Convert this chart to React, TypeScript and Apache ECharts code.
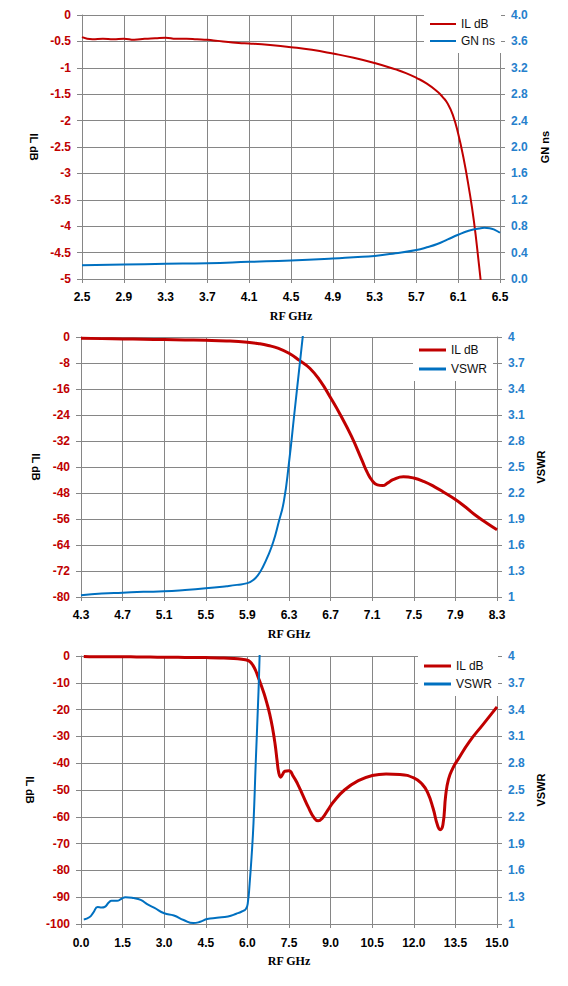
import React, { useEffect, useRef } from 'react';
import * as echarts from 'echarts';

// ---------- tick labels ----------
const X1_TICKS = [2.5, 2.9, 3.3, 3.7, 4.1, 4.5, 4.9, 5.3, 5.7, 6.1, 6.5];
const X2_TICKS = [4.3, 4.7, 5.1, 5.5, 5.9, 6.3, 6.7, 7.1, 7.5, 7.9, 8.3];
const VSWR_TICKS = [1, 1.3, 1.6, 1.9, 2.2, 2.5, 2.8, 3.1, 3.4, 3.7, 4];

// ---------- chart 1: IL dB / GN ns ----------
const IL1: [number, number][] = [
  [2.5, -0.42], [2.6, -0.46], [2.7, -0.45], [2.8, -0.46], [2.9, -0.45], [3.0, -0.47],
  [3.1, -0.45], [3.2, -0.44], [3.3, -0.43], [3.4, -0.45], [3.5, -0.45], [3.6, -0.46],
  [3.7, -0.47], [3.8, -0.49], [3.9, -0.51], [4.0, -0.53], [4.1, -0.54], [4.3, -0.57],
  [4.5, -0.61], [4.7, -0.66], [4.9, -0.73], [5.1, -0.81], [5.3, -0.91], [5.5, -1.03],
  [5.6, -1.1], [5.7, -1.19], [5.8, -1.3], [5.9, -1.45], [5.95, -1.55], [6.0, -1.68],
  [6.05, -1.9], [6.1, -2.25], [6.15, -2.7], [6.2, -3.25], [6.25, -3.9], [6.3, -4.75],
  [6.33, -5.3],
];
const GN1: [number, number][] = [
  [2.5, 0.21], [2.9, 0.22], [3.3, 0.23], [3.7, 0.24], [4.1, 0.26], [4.5, 0.28],
  [4.9, 0.31], [5.1, 0.33], [5.3, 0.35], [5.5, 0.39], [5.7, 0.44], [5.8, 0.48],
  [5.9, 0.53], [6.0, 0.6], [6.1, 0.67], [6.2, 0.73], [6.3, 0.765], [6.35, 0.775],
  [6.4, 0.77], [6.45, 0.745], [6.5, 0.7],
];

// ---------- chart 2: IL dB / VSWR ----------
const IL2: [number, number][] = [
  [4.3, -0.4], [4.5, -0.5], [4.7, -0.6], [4.9, -0.7], [5.1, -0.8], [5.3, -0.9],
  [5.5, -1.0], [5.7, -1.2], [5.9, -1.6], [6.0, -2.0], [6.1, -2.6], [6.2, -3.5],
  [6.3, -5.0], [6.4, -7.2], [6.5, -9.6], [6.6, -13.5], [6.7, -18.7], [6.8, -24.3],
  [6.9, -30.5], [7.0, -37.8], [7.05, -41.5], [7.1, -44.2], [7.15, -45.5], [7.2, -45.7],
  [7.25, -44.9], [7.3, -43.9], [7.4, -43.0], [7.5, -43.4], [7.6, -44.5], [7.7, -46.1],
  [7.8, -48.0], [7.9, -50.0], [8.0, -52.4], [8.1, -55.0], [8.2, -57.2], [8.3, -59.3],
];
const VSWR2: [number, number][] = [
  [4.3, 1.02], [4.5, 1.04], [4.7, 1.05], [4.9, 1.06], [5.1, 1.065], [5.3, 1.08],
  [5.5, 1.1], [5.7, 1.125], [5.8, 1.14], [5.9, 1.16], [5.95, 1.19], [6.0, 1.25],
  [6.05, 1.35], [6.1, 1.48], [6.15, 1.64], [6.2, 1.86], [6.25, 2.1], [6.3, 2.55],
  [6.35, 3.1], [6.4, 3.65], [6.45, 4.2],
];

// ---------- chart 3: IL dB / VSWR wideband ----------
const IL3: [number, number][] = [
  [0.1, -0.2], [0.5, -0.3], [1.0, -0.3], [1.5, -0.3], [2.0, -0.35], [2.5, -0.4],
  [3.0, -0.45], [3.5, -0.5], [4.0, -0.55], [4.5, -0.6], [5.0, -0.7], [5.5, -0.9],
  [5.8, -1.2], [6.0, -1.6], [6.1, -2.2], [6.2, -3.5], [6.3, -5.5], [6.4, -8.2],
  [6.5, -11], [6.6, -14], [6.7, -17.5], [6.8, -21.5], [6.9, -26.5], [7.0, -33],
  [7.07, -39], [7.13, -43.5], [7.2, -45.2], [7.27, -44.2], [7.35, -43], [7.5, -42.8],
  [7.65, -44.8], [7.8, -47.5], [8.0, -52], [8.2, -56.5], [8.4, -60.3], [8.55, -61.5],
  [8.7, -60.5], [8.9, -57.5], [9.1, -54.5], [9.5, -50], [10.0, -46.5], [10.5, -44.6],
  [11.0, -44], [11.5, -44.2], [12.0, -45.5], [12.3, -47.8], [12.5, -51], [12.7, -57],
  [12.85, -63], [12.95, -64.8], [13.05, -63], [13.15, -52], [13.25, -46], [13.4, -42],
  [13.6, -38.5], [14.0, -32], [14.5, -25.5], [15.0, -19],
];
const VSWR3: [number, number][] = [
  [0.1, 1.05], [0.3, 1.075], [0.45, 1.13], [0.6, 1.19], [0.75, 1.185], [0.85, 1.19],
  [1.0, 1.24], [1.1, 1.26], [1.3, 1.26], [1.45, 1.28], [1.6, 1.3], [1.9, 1.29],
  [2.15, 1.27], [2.4, 1.22], [2.65, 1.18], [3.0, 1.12], [3.35, 1.095], [3.7, 1.045],
  [4.05, 1.01], [4.3, 1.025], [4.55, 1.055], [4.9, 1.07], [5.3, 1.085], [5.6, 1.115],
  [5.8, 1.14], [5.95, 1.17], [6.02, 1.25], [6.08, 1.45], [6.15, 1.75], [6.22, 2.13],
  [6.3, 2.8], [6.4, 3.6], [6.44, 4.0], [6.46, 4.2],
];

const RED = '#C00000';
const BLUE = '#0070C0';
const BLUE_LABEL = '#2680CC';
const GRID = '#868686';
const SANS = 'Liberation Sans, Arial, sans-serif';
const SERIF = 'Liberation Serif, Times New Roman, serif';

function xAxis(grid: number, min: number, max: number, extra: any) {
  return {
    type: 'value', gridIndex: grid, min, max,
    name: 'RF GHz', nameLocation: 'middle', nameGap: 31,
    nameTextStyle: { fontFamily: SERIF, fontWeight: 'bold', fontSize: 12, color: '#000' },
    axisLine: { show: true, onZero: false, lineStyle: { color: GRID, width: 1 } },
    axisTick: { show: true, inside: false, length: 4, lineStyle: { color: GRID }, ...(extra.tick || {}) },
    axisLabel: { color: '#000', fontFamily: SANS, fontWeight: 'bold', fontSize: 12, margin: 12, ...(extra.label || {}) },
    splitLine: { show: true, lineStyle: { color: GRID, width: 1 } },
    ...(extra.axis || {}),
  };
}

function leftAxis(grid: number, min: number, max: number, interval: number, gap: number) {
  return {
    type: 'value', gridIndex: grid, position: 'left', min, max, interval,
    name: 'IL dB', nameLocation: 'middle', nameRotate: -90, nameGap: gap,
    nameTextStyle: { fontFamily: SANS, fontWeight: 'bold', fontSize: 11, color: '#000' },
    axisLine: { show: true, lineStyle: { color: GRID, width: 1 } },
    axisTick: { show: true, inside: false, length: 5, lineStyle: { color: GRID } },
    axisLabel: { color: RED, fontFamily: SANS, fontWeight: 'bold', fontSize: 12, margin: 11 },
    splitLine: { show: true, lineStyle: { color: GRID, width: 1 } },
  };
}

function rightAxis(grid: number, name: string, min: number, max: number, gap: number, extra: any) {
  return {
    type: 'value', gridIndex: grid, position: 'right', min, max,
    name, nameLocation: 'middle', nameRotate: 90, nameGap: gap,
    nameTextStyle: { fontFamily: SANS, fontWeight: 'bold', fontSize: 11, color: '#000' },
    axisLine: { show: true, lineStyle: { color: GRID, width: 1 } },
    axisTick: { show: true, inside: false, length: 5, lineStyle: { color: GRID }, ...(extra.tick || {}) },
    axisLabel: { color: BLUE_LABEL, fontFamily: SANS, fontWeight: 'bold', fontSize: 12, margin: 11, ...(extra.label || {}) },
    splitLine: { show: false },
    ...(extra.axis || {}),
  };
}

function line(name: string, x: number, y: number, data: [number, number][], color: string, width: number) {
  return {
    type: 'line', name, xAxisIndex: x, yAxisIndex: y, data,
    symbol: 'none', smooth: 0.5, clip: true,
    lineStyle: { color, width }, itemStyle: { color },
  };
}

function legend(names: string[], left: number, top: number, gap: number, w: number, h: number) {
  return {
    data: names, orient: 'vertical', left, top, padding: [6, 6], itemGap: gap,
    itemWidth: w, itemHeight: h, icon: 'rect', backgroundColor: '#ffffff',
    selectedMode: false,
    textStyle: { fontFamily: SANS, fontSize: 12, color: '#111' },
  };
}

export default function App() {
  const ref = useRef<HTMLDivElement>(null);
  useEffect(() => {
    if (!ref.current) return;
    const chart = echarts.init(ref.current, undefined, { renderer: 'svg' });
    const fmt1 = (v: number) => v.toFixed(1);
    chart.setOption({
      animation: false,
      backgroundColor: '#ffffff',
      grid: [
        { left: 82, top: 15, width: 418, height: 264 },
        { left: 81, top: 337, width: 416, height: 260 },
        { left: 81, top: 656, width: 416, height: 268 },
      ],
      xAxis: [
        xAxis(0, 2.5, 6.5, { tick: { customValues: X1_TICKS }, label: { customValues: X1_TICKS, formatter: fmt1 } }),
        xAxis(1, 4.3, 8.3, { tick: { customValues: X2_TICKS }, label: { customValues: X2_TICKS, formatter: fmt1 } }),
        xAxis(2, 0, 15, { axis: { interval: 1.5 }, label: { formatter: fmt1, margin: 13 } }),
      ],
      yAxis: [
        leftAxis(0, -5, 0, 0.5, 41),
        rightAxis(0, 'GN ns', 0, 4, 39, { axis: { interval: 0.4 }, label: { formatter: fmt1 } }),
        leftAxis(1, -80, 0, 8, 37),
        rightAxis(1, 'VSWR', 1, 4, 37, { tick: { customValues: VSWR_TICKS }, label: { customValues: VSWR_TICKS } }),
        leftAxis(2, -100, 0, 10, 44),
        rightAxis(2, 'VSWR', 1, 4, 37, { tick: { customValues: VSWR_TICKS }, label: { customValues: VSWR_TICKS } }),
      ],
      legend: [
        legend(['IL dB', 'GN ns'], 424, 12, 5, 26, 2),
        legend(['IL dB', 'VSWR'], 413, 338, 7, 27, 3),
        legend(['IL dB', 'VSWR'], 418, 654, 6, 27, 3),
      ],
      series: [
        line('IL dB', 0, 0, IL1, RED, 2),
        line('GN ns', 0, 1, GN1, BLUE, 2),
        line('IL dB', 1, 2, IL2, RED, 3),
        line('VSWR', 1, 3, VSWR2, BLUE, 2),
        line('IL dB', 2, 4, IL3, RED, 3),
        line('VSWR', 2, 5, VSWR3, BLUE, 2),
      ],
    });
    return () => chart.dispose();
  }, []);
  return <div ref={ref} style={{ position: 'absolute', left: 0, top: 0, width: 568, height: 986 }} />;
}
